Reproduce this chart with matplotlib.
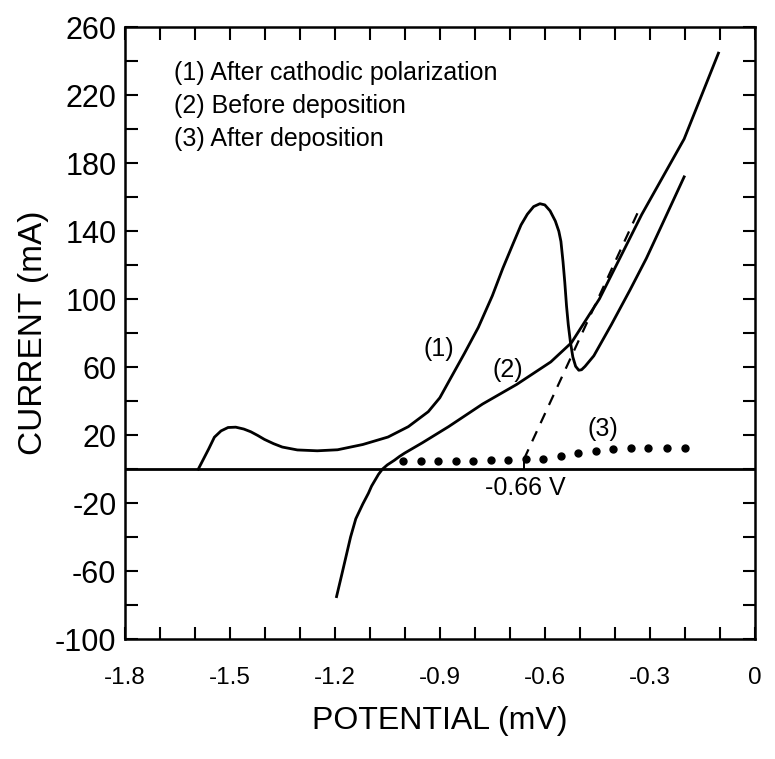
# Anodic polarization curves (scanned figure redraw)

import numpy as np
import matplotlib.pyplot as plt

plt.rcParams['font.family'] = ['Liberation Sans', 'DejaVu Sans']
plt.rcParams['axes.unicode_minus'] = False


# Curve (1): after cathodic polarization
x1 = [-1.59, -1.575, -1.56, -1.544, -1.525, -1.505, -1.483, -1.46, -1.44,
      -1.42, -1.401, -1.375, -1.35, -1.307, -1.25, -1.192, -1.12, -1.048,
      -0.99, -0.933, -0.9, -0.871, -0.83, -0.79, -0.75, -0.72, -0.69,
      -0.668, -0.65, -0.632, -0.614, -0.6, -0.585, -0.57, -0.56, -0.554,
      -0.548, -0.543, -0.538, -0.533, -0.527, -0.52, -0.512, -0.503, -0.495,
      -0.485, -0.46, -0.41, -0.357, -0.31, -0.266, -0.202]
y1 = [0.0, 6.0, 12.0, 18.8, 22.5, 24.5, 24.7, 23.6, 22.0,
      19.8, 17.5, 15.0, 13.0, 11.3, 10.8, 11.4, 14.5, 18.9,
      25.0, 33.8, 42.0, 52.8, 68.0, 83.4, 102.0, 118.2, 133.0,
      143.7, 150.0, 154.5, 156.2, 155.5, 152.0, 146.0, 140.0, 134.0,
      122.0, 110.0, 96.0, 85.0, 75.0, 66.0, 60.5, 58.2, 58.5,
      60.5, 66.7, 85.0, 105.3, 124.0, 143.5, 172.0]

# Curve (2): before deposition
x2 = [-1.195, -1.18, -1.155, -1.14, -1.12, -1.104, -1.095, -1.075, -1.064,
      -1.05, -1.03, -1.015, -1.0, -0.95, -0.875, -0.778, -0.68, -0.583,
      -0.524, -0.444, -0.323, -0.202, -0.104]
y2 = [-75.0, -62.0, -40.0, -29.2, -20.5, -14.2, -10.0, -3.0, 0.0,
      2.5, 5.2, 7.5, 9.5, 15.5, 25.0, 38.3, 49.9, 63.1,
      74.4, 100.2, 149.9, 194.3, 244.8]

# Curve (3): after deposition (dotted)
x3 = [-1.004, -0.955, -0.904, -0.855, -0.806, -0.755, -0.706, -0.654, -0.605,
      -0.554, -0.505, -0.453, -0.404, -0.353, -0.304, -0.252, -0.2]
y3 = [4.7, 4.8, 4.7, 4.8, 4.7, 5.1, 5.2, 5.7, 6.2,
      8.0, 9.5, 10.9, 12.0, 12.5, 12.6, 12.5, 12.5]

# Tangent (dashed) and onset potential
x_tan = [-0.66, -0.33]
y_tan = [5.7, 153.0]
onset = -0.66

# Axes ticks
xticks = [-1.8, -1.5, -1.2, -0.9, -0.6, -0.3, 0.0]
xlabels = ['-1.8', '-1.5', '-1.2', '-0.9', '-0.6', '-0.3', '0']
yticks = [-100, -60, -20, 20, 60, 100, 140, 180, 220, 260]

legend_lines = ['(1) After cathodic polarization',
                '(2) Before deposition',
                '(3) After deposition']


fig = plt.figure(figsize=(7.75, 7.59), dpi=100)
ax = fig.add_axes([0.161, 0.158, 0.813, 0.806])

lw = 2.0
ax.axhline(0, color='k', lw=lw)
ax.plot(x1, y1, 'k-', lw=lw, solid_joinstyle='round')
ax.plot(x2, y2, 'k-', lw=lw, solid_joinstyle='round')
ax.plot(x3, y3, 'k', ls='none', marker='o', ms=5)
ax.plot(x_tan, y_tan, 'k', lw=1.6, dashes=(5, 4))
ax.plot([onset, onset], [0, y_tan[0]], 'k-', lw=1.4)

# Annotations
ax.text(-0.903, 70.8, '(1)', fontsize=18, ha='center', va='center')
ax.text(-0.707, 58.3, '(2)', fontsize=18, ha='center', va='center')
ax.text(-0.433, 23.4, '(3)', fontsize=18, ha='center', va='center')
ax.text(-0.655, -11.0, '-0.66 V', fontsize=18, ha='center', va='center')

for i, line in enumerate(legend_lines):
    ax.text(-1.66, 233 - 19.5 * i, line, fontsize=18, ha='left', va='center')

ax.set_xlim(-1.8, 0)
ax.set_ylim(-100, 260)

ax.set_xticks(xticks)
ax.set_xticklabels(xlabels)
ax.set_xticks(np.arange(-1.8, 0.001, 0.1), minor=True)
ax.set_yticks(yticks)
ax.set_yticks(np.arange(-100, 261, 20), minor=True)

ax.tick_params(which='both', direction='in', length=9, width=1.5,
               top=True, right=True)
ax.tick_params(axis='x', labelsize=17.5, pad=20)
ax.tick_params(axis='y', labelsize=22, pad=6)

for s in ax.spines.values():
    s.set_linewidth(1.8)

ax.set_xlabel('POTENTIAL (mV)', fontsize=23, labelpad=12)
ax.set_ylabel('CURRENT (mA)', fontsize=24, labelpad=4)

fig.savefig('out.png', dpi=100)
